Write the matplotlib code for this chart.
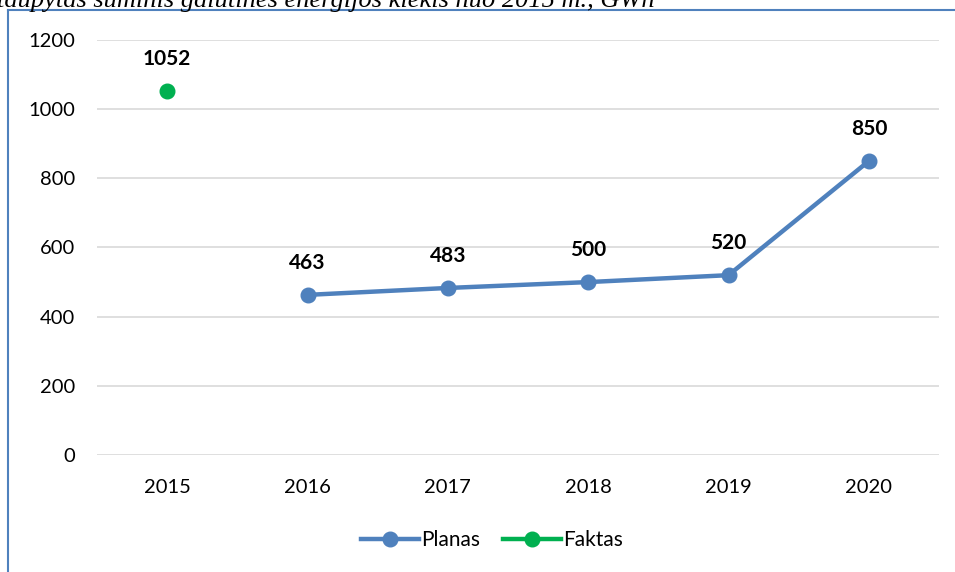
import matplotlib
matplotlib.use("Agg")
import matplotlib.pyplot as plt
from matplotlib.lines import Line2D

years = ["2015", "2016", "2017", "2018", "2019", "2020"]
planas = [None, 463, 483, 500, 520, 850]
faktas = [1052, None, None, None, None, None]
yticks = [0, 200, 400, 600, 800, 1000, 1200]
title_text = "taupytas suminis galutinės energijos kiekis nuo 2015 m., GWh"

blue = "#4F81BD"
green = "#00B050"
font = ["Lato", "DejaVu Sans"]

fig = plt.figure(figsize=(9.55, 5.72), dpi=100)
W, H = 955, 572
ax = fig.add_axes([97 / W, 1 - 455 / H, (939 - 97) / W, (455 - 40) / H])

x = list(range(len(years)))
px = [i for i, v in zip(x, planas) if v is not None]
pv = [v for v in planas if v is not None]
fx = [i for i, v in zip(x, faktas) if v is not None]
fv = [v for v in faktas if v is not None]

ax.plot(px, pv, color=blue, lw=3.2, marker="o", ms=10.5, solid_capstyle="round", zorder=3)
ax.plot(fx, fv, color=green, lw=3.2, marker="o", ms=10.5, linestyle="none", zorder=3)

for i, v in list(zip(px, pv)) + list(zip(fx, fv)):
    ax.annotate(str(v), (i, v), xytext=(0, 23), textcoords="offset points",
                ha="center", va="center", fontsize=15, fontweight="bold",
                family=font, color="black")

ax.set_xlim(-0.5, len(years) - 0.5)
ax.set_ylim(0, 1200)
ax.set_yticks(yticks)
ax.set_xticks(x)
ax.set_xticklabels(years)
ax.grid(axis="y", color="#D9D9D9", lw=1.2)
ax.set_axisbelow(True)
for s in ax.spines.values():
    s.set_visible(False)
ax.tick_params(length=0, labelsize=14.5, colors="black")
ax.tick_params(axis="x", pad=17)
ax.tick_params(axis="y", pad=16)
for lbl in ax.get_xticklabels() + ax.get_yticklabels():
    lbl.set_family(font)

handles = [Line2D([0], [0], color=blue, lw=3.2, marker="o", ms=10.5),
           Line2D([0], [0], color=green, lw=3.2, marker="o", ms=10.5)]
leg = fig.legend(handles, ["Planas", "Faktas"], loc="center", bbox_to_anchor=(492 / W, 1 - 540 / H),
                 ncol=2, frameon=False, prop={"family": font, "size": 15},
                 handlelength=2.8, columnspacing=1.1, handletextpad=0.1)

# outer box (blue frame, open on right/bottom)
fig.add_artist(Line2D([8 / W, 8 / W], [0, 1 - 10 / H], color=blue, lw=1.5, transform=fig.transFigure))
fig.add_artist(Line2D([8 / W, 1.0], [1 - 10 / H, 1 - 10 / H], color=blue, lw=1.5, transform=fig.transFigure))

fig.text(-3 / W, 1 - 1 / H, title_text, ha="left", va="center", fontsize=19, style="italic",
         family=["Liberation Serif", "DejaVu Serif"])

fig.savefig("out.png", dpi=100)
